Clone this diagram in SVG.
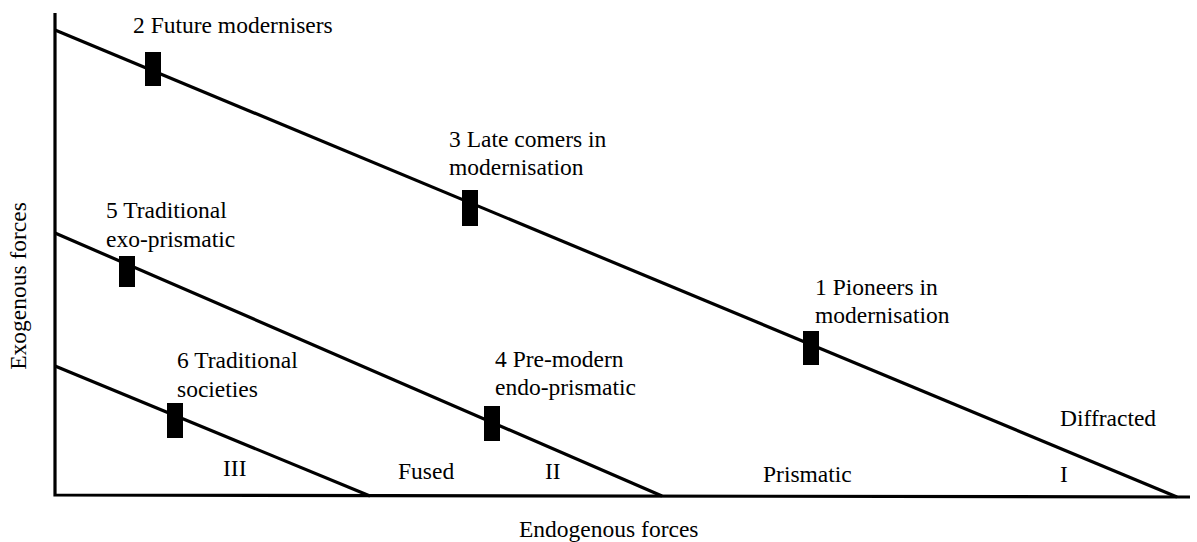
<svg xmlns="http://www.w3.org/2000/svg" width="1197" height="542" viewBox="0 0 1197 542">
<style>
text{font-family:"Liberation Serif","Times New Roman",serif;font-size:23.5px;fill:#000}
.ln{stroke:#000;stroke-width:3.2;fill:none;stroke-linecap:butt}
.ax{stroke:#000;stroke-width:3.2;fill:none}
.mk{fill:#000}
</style>
<rect width="1197" height="542" fill="#fff"/>
<g id="axes">
<polyline class="ax" points="55,13 55,495 1190,497"/>
<text x="519" y="537">Endogenous forces</text>
<text transform="translate(26,286) rotate(-90)" text-anchor="middle">Exogenous forces</text>
</g>
<g id="connectors">
<line class="ln" x1="55" y1="30" x2="1177" y2="497"/>
<line class="ln" x1="55" y1="233" x2="662" y2="496"/>
<line class="ln" x1="55" y1="366" x2="370" y2="496"/>
</g>
<g id="node2"><rect class="mk" x="145" y="52" width="16" height="34"/><text x="133" y="33">2 Future modernisers</text></g>
<g id="node3"><rect class="mk" x="462" y="190" width="16" height="36"/><text x="449" y="147">3 Late comers in</text><text x="449" y="175">modernisation</text></g>
<g id="node1"><rect class="mk" x="803" y="331" width="16" height="34"/><text x="815" y="295">1 Pioneers in</text><text x="815" y="323">modernisation</text></g>
<g id="node5"><rect class="mk" x="119" y="256" width="16" height="31"/><text x="106" y="218">5 Traditional</text><text x="106" y="247">exo-prismatic</text></g>
<g id="node4"><rect class="mk" x="484" y="406" width="16" height="35"/><text x="495" y="367">4 Pre-modern</text><text x="495" y="395">endo-prismatic</text></g>
<g id="node6"><rect class="mk" x="167" y="403" width="16" height="35"/><text x="177" y="368">6 Traditional</text><text x="177" y="397">societies</text></g>
<g id="regions">
<text x="223" y="476">III</text>
<text x="398" y="479">Fused</text>
<text x="545" y="479">II</text>
<text x="763" y="482">Prismatic</text>
<text x="1060" y="482">I</text>
<text x="1060" y="426">Diffracted</text>
</g>
</svg>
